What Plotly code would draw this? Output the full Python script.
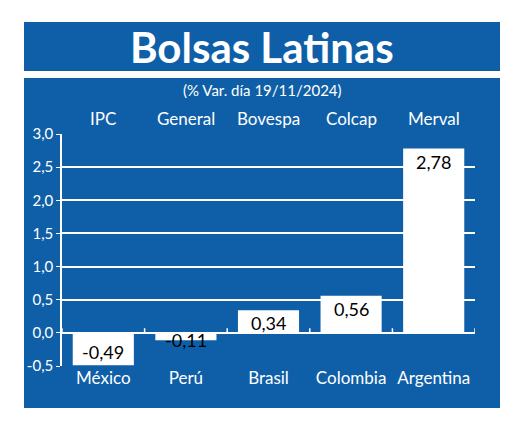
import plotly.graph_objects as go

countries = ["México", "Perú", "Brasil", "Colombia", "Argentina"]
indices = ["IPC", "General", "Bovespa", "Colcap", "Merval"]
values = [-0.49, -0.11, 0.34, 0.56, 2.78]
yticks = [-0.5, 0, 0.5, 1, 1.5, 2, 2.5, 3]
ytext = ["-0,5", "0,0", "0,5", "1,0", "1,5", "2,0", "2,5", "3,0"]

BLUE = "#0f5fa8"
FONT = "Lato"
PH = 232.0  # plot height px
PW = 413.0  # plot width px

fig = go.Figure(go.Bar(x=list(range(5)), y=values, width=0.74,
                       marker=dict(color="white", line=dict(width=0))))

fig.update_layout(
    width=520, height=424, paper_bgcolor="white", plot_bgcolor=BLUE,
    margin=dict(l=54, r=53, t=126, b=66), showlegend=False,
    font=dict(family=FONT, color="white", size=16),
    xaxis=dict(range=[-0.5, 4.5], tickvals=list(range(5)), ticktext=countries,
               showgrid=False, zeroline=False, ticks="", ticklabelstandoff=0,
               tickfont=dict(size=17, color="white")),
    yaxis=dict(range=[-0.5, 3.0], tickvals=yticks, ticktext=ytext, showgrid=True,
               gridcolor="white", gridwidth=1.5, zeroline=False, showline=True,
               linecolor="white", linewidth=1.5, ticks="outside", ticklen=4, tickcolor="white",
               tickfont=dict(size=15, color="white")),
)

def py(px):  # px above plot top -> paper y
    return 1 + px / PH

shapes = [
    dict(type="rect", xref="paper", yref="paper", x0=-38/PW, x1=438/PW,
         y0=py(134-71), y1=py(134-22), fillcolor=BLUE, line=dict(width=0), layer="below"),
    dict(type="rect", xref="paper", yref="paper", x0=-38/PW, x1=438/PW,
         y0=-(408-366)/PH, y1=py(134-78), fillcolor=BLUE, line=dict(width=0), layer="below"),
]
for i in range(6):
    shapes.append(dict(type="line", xref="x", yref="y", x0=i-0.5, x1=i-0.5, y0=0, y1=0.07,
                       line=dict(color="white", width=1.5)))
shapes.append(dict(type="line", xref="x", yref="y", x0=-0.5, x1=4.5, y0=0, y1=0,
                   line=dict(color="white", width=1.5), layer="below"))
fig.update_layout(shapes=shapes)

ann = [dict(text="<b>Bolsas Latinas</b>", xref="paper", yref="paper", x=(262-62)/PW,
            y=py(134-47), yanchor="middle", showarrow=False,
            font=dict(size=42, color="white", family=FONT)),
       dict(text="(% Var. día 19/11/2024)", xref="paper", yref="paper", x=(262-62)/PW,
            y=py(134-90), yanchor="middle", showarrow=False,
            font=dict(size=15, color="white", family=FONT))]
for i, name in enumerate(indices):
    ann.append(dict(text=name, x=i, xref="x", yref="paper", y=py(16), yanchor="middle",
                    showarrow=False, font=dict(size=17, color="white", family=FONT)))
for i, v in enumerate(values):
    label = f"{v:.2f}".replace(".", ",")
    if v >= 0:
        ya = "top"
    elif abs(v) < 0.3:
        ya = "middle"
    else:
        ya = "bottom"
    ann.append(dict(text=label, x=i, y=v, xref="x", yref="y", yanchor=ya, showarrow=False,
                    font=dict(size=18, color="black", family=FONT)))
fig.update_layout(annotations=ann)

fig.write_html("out.html")
